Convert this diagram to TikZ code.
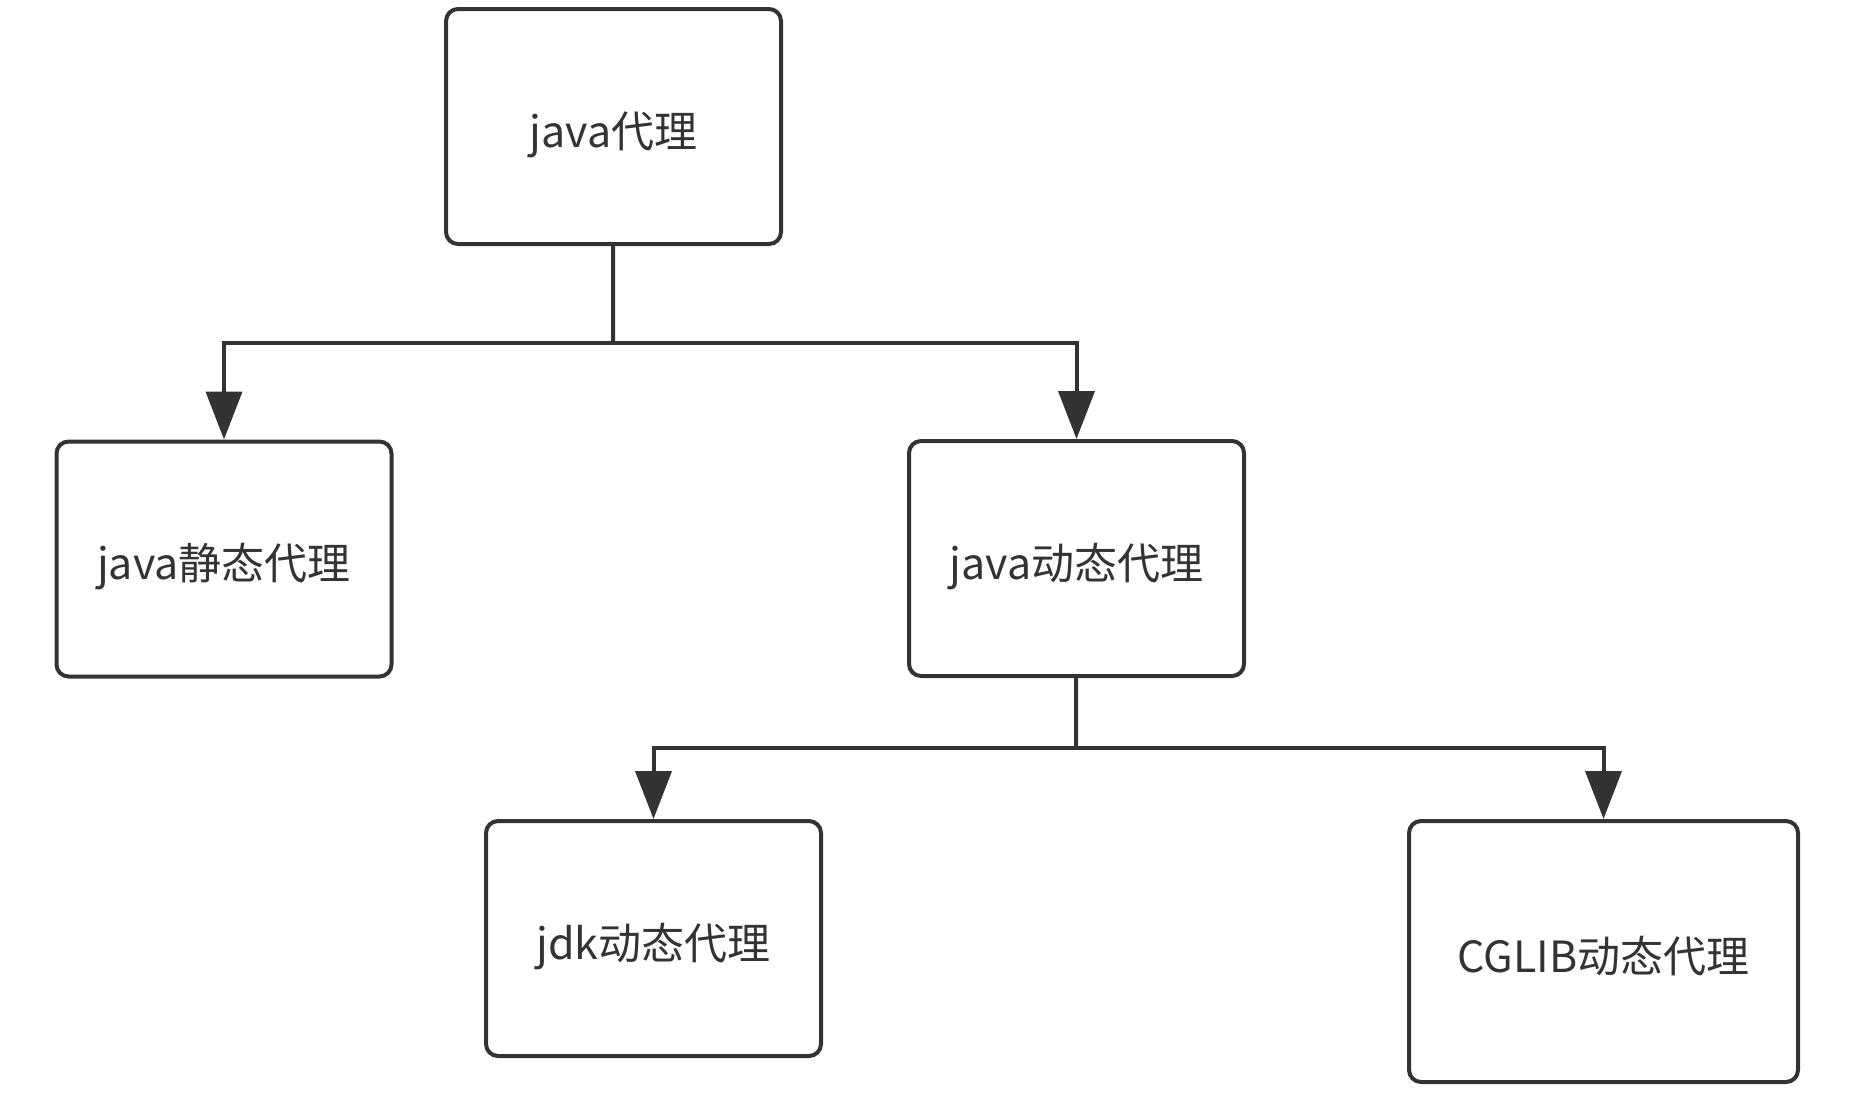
\documentclass[tikz,border=0pt]{standalone}
\usepackage{fontspec}
\setmainfont{Noto Sans CJK SC}
\usepackage{xcolor}
\usepackage{tikz}
\usetikzlibrary{arrows.meta,positioning}

\definecolor{ink}{HTML}{333333}

\begin{document}
\begin{tikzpicture}[
  x=1pt, y=-1pt,
  font=\fontsize{43}{50}\selectfont,
  box/.style={rectangle, rounded corners=12pt, draw=ink, line width=4pt,
              text=ink, text height=41pt, text depth=0pt,
              minimum width=335pt, minimum height=235pt, inner sep=0pt},
  link/.style={draw=ink, line width=4pt},
  arr/.style={link, -{Triangle[length=48pt, width=36pt]}}]

\useasboundingbox (0,0) rectangle (1849,1106);

\node[box] (proxy) at (613.5,126.5) {java代理};
\node[box] (static) at (224,559) {java静态代理};
\node[box] (dynamic) at (1076.5,558.5) {java动态代理};
\node[box] (jdk) at (653.5,938.5) {jdk动态代理};
\node[box, minimum width=389pt, minimum height=261pt] (cglib) at (1603.5,951.5) {CGLIB动态代理};

\coordinate (split1) at (613,343);
\coordinate (split2) at (1076,748);

\draw[link] (proxy) -- (split1);
\draw[arr] (split1) -| (static);
\draw[arr] (split1) -| (dynamic);
\draw[link] (dynamic) -- (split2);
\draw[arr] (split2) -| (jdk);
\draw[arr] (split2) -| (cglib);
\end{tikzpicture}
\end{document}
